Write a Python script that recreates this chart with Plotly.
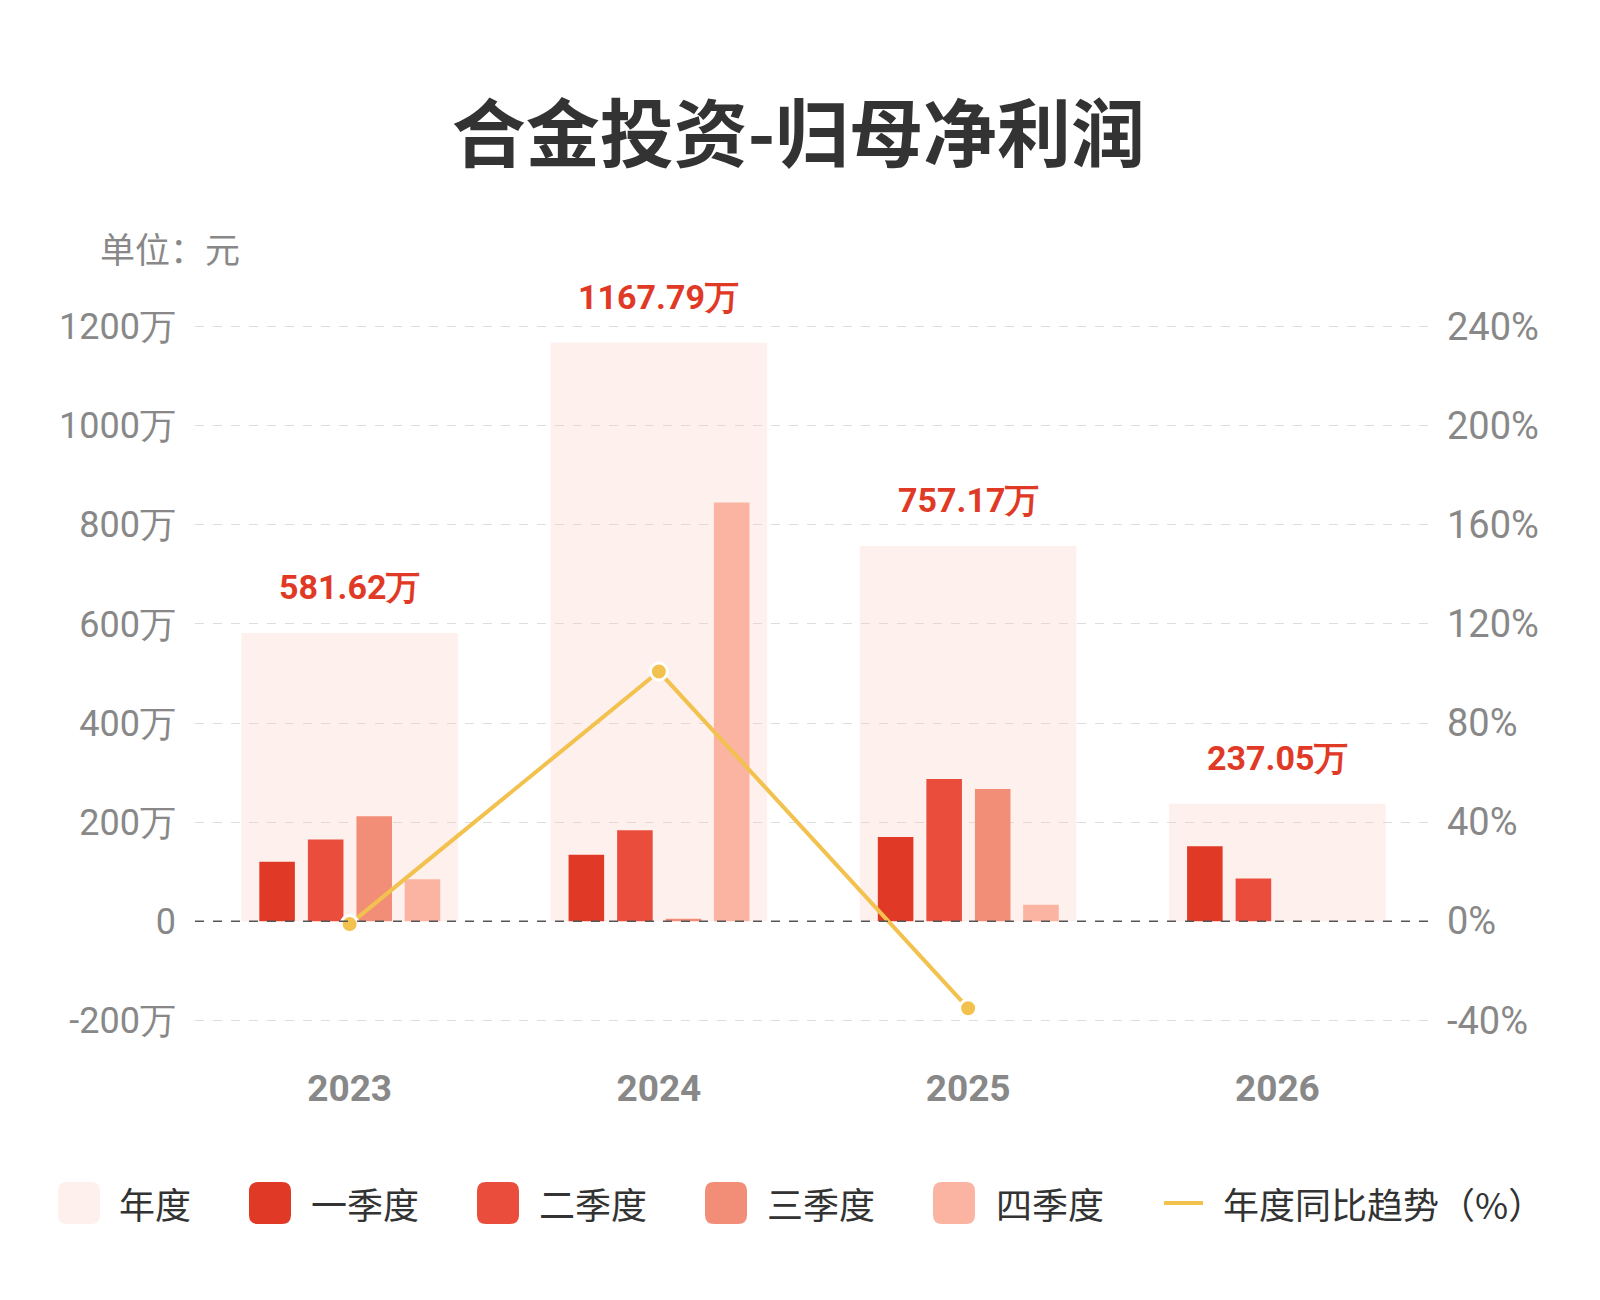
import plotly.graph_objects as go

# 数据（单位：万元）
years = ['2023', '2024', '2025', '2026']
annual = [581.62, 1167.79, 757.17, 237.05]
q1 = [120, 134, 170, 151]
q2 = [165, 183.5, 287, 86.05]
q3 = [212, 5, 267, None]
q4 = [84.62, 845.29, 33.17, None]
yoy = [-1.2, 100.78, -35.16, None]

left_ticks = [-200, 0, 200, 400, 600, 800, 1000, 1200]
left_text = ['-200万', '0', '200万', '400万', '600万', '800万', '1000万', '1200万']
right_ticks = [-40, 0, 40, 80, 120, 160, 200, 240]
right_text = ['-40%', '0%', '40%', '80%', '120%', '160%', '200%', '240%']

legend_names = ['年度', '一季度', '二季度', '三季度', '四季度', '年度同比趋势（%）']

# 颜色
c_annual = 'rgba(252, 205, 192, 0.3)'
c_annual_legend = '#FEF0EC'
q_colors = ['#E03A26', '#EA4D3C', '#F28E78', '#FBB3A2']
c_line = '#F2C14E'
c_label = '#E03A26'

num_font = 'Roboto, sans-serif'
cjk_font = 'Noto Sans CJK SC, sans-serif'

ML, MR, MT, MB = 187, 176, 293, 267

fig = go.Figure()

# 年度背景柱
fig.add_trace(go.Bar(
    x=years, y=annual, width=0.7, offset=-0.35,
    marker=dict(color=c_annual, line=dict(width=0)),
    showlegend=False, hoverinfo='skip',
))

# 季度柱
quarters = [q1, q2, q3, q4]
offsets = [-0.292, -0.135, 0.022, 0.178]
for vals, col, off in zip(quarters, q_colors, offsets):
    fig.add_trace(go.Bar(
        x=years, y=vals, width=0.115, offset=off,
        marker=dict(color=col, line=dict(width=0)),
        showlegend=False,
    ))

# 同比趋势线
fig.add_trace(go.Scatter(
    x=years, y=yoy, yaxis='y2', mode='lines+markers',
    line=dict(color=c_line, width=4),
    marker=dict(color=c_line, size=17, line=dict(color='white', width=3)),
    showlegend=False,
))

# 年度数值标签（类别轴上用序号定位）
for i, v in enumerate(annual):
    fig.add_annotation(x=i, y=v, xref='x', yref='y', text=f'<b>{v:.2f}万</b>', showarrow=False,
                       yanchor='bottom', yshift=24,
                       font=dict(size=34, color=c_label, family=num_font))

fig.update_layout(
    width=1600, height=1300,
    paper_bgcolor='white', plot_bgcolor='white',
    barmode='overlay',
    margin=dict(l=ML, r=MR, t=MT, b=MB),
    title=dict(text='<b>合金投资-归母净利润</b>', x=0.494, xanchor='center', y=0.902, yanchor='middle',
               font=dict(size=74, color='#333333', family=cjk_font)),
    xaxis=dict(
        type='category', categoryorder='array', categoryarray=years,
        range=[-0.5, len(years) - 0.5],
        showgrid=False, zeroline=False, showline=False,
        tickfont=dict(size=37, color='#888888', family=num_font, weight='bold'),
        ticks='', ticklabelstandoff=22,
    ),
    yaxis=dict(
        range=[-242, 1252], tickvals=left_ticks, ticktext=left_text,
        showgrid=True, gridcolor='#DDDDDD', griddash='dash', gridwidth=1.2,
        zeroline=False, showline=False, ticks='',
        tickfont=dict(size=36, color='#888888', family=num_font),
        ticklabelstandoff=18,
    ),
    yaxis2=dict(
        range=[-48.4, 250.4], tickvals=right_ticks, ticktext=right_text,
        overlaying='y', side='right', showgrid=False, zeroline=False, showline=False,
        ticks='', tickfont=dict(size=38, color='#888888', family=num_font),
        ticklabelstandoff=14,
    ),
    showlegend=False,
    font=dict(family=cjk_font),
)

# 零线（虚线）
fig.add_shape(type='line', xref='paper', yref='y', x0=0, x1=1, y0=0, y1=0,
              line=dict(color='#555555', width=1.5, dash='dash'), layer='above')


def px_to_paper_x(px):
    return (px - ML) / (1600 - ML - MR)


def px_to_paper_y(py):
    return (1300 - MB - py) / (1300 - MT - MB)


# 单位
fig.add_annotation(text='单位：元', xref='paper', yref='paper',
                   x=px_to_paper_x(90), y=px_to_paper_y(239),
                   xanchor='left', yanchor='middle', showarrow=False,
                   font=dict(size=35, color='#888888', family=cjk_font))

# 自定义图例
legend_y = 1195
box = 42
box_centers = [71, 262, 490, 718, 946]
text_x = [109, 301, 529, 757, 986]
box_colors = [c_annual_legend] + q_colors


def rounded_rect(x0, y0, x1, y1, rx, ry):
    return (f'M {x0+rx},{y0} L {x1-rx},{y0} Q {x1},{y0} {x1},{y0+ry} '
            f'L {x1},{y1-ry} Q {x1},{y1} {x1-rx},{y1} L {x0+rx},{y1} '
            f'Q {x0},{y1} {x0},{y1-ry} L {x0},{y0+ry} Q {x0},{y0} {x0+rx},{y0} Z')


rx = 9 / (1600 - ML - MR)
ry = 9 / (1300 - MT - MB)
for cx, col in zip(box_centers, box_colors):
    fig.add_shape(type='path', xref='paper', yref='paper',
                  path=rounded_rect(px_to_paper_x(cx - box / 2), px_to_paper_y(legend_y + box / 2),
                                    px_to_paper_x(cx + box / 2), px_to_paper_y(legend_y - box / 2),
                                    rx, ry),
                  fillcolor=col, line=dict(width=0))

fig.add_shape(type='line', xref='paper', yref='paper',
              x0=px_to_paper_x(1156), x1=px_to_paper_x(1195),
              y0=px_to_paper_y(legend_y), y1=px_to_paper_y(legend_y),
              line=dict(color=c_line, width=4))

text_x.append(1213)
for tx, name in zip(text_x, legend_names):
    fig.add_annotation(text=name, xref='paper', yref='paper',
                       x=px_to_paper_x(tx), y=px_to_paper_y(legend_y),
                       xanchor='left', yanchor='middle', showarrow=False,
                       font=dict(size=36, color='#333333', family=cjk_font))

fig.write_html('out.html')
